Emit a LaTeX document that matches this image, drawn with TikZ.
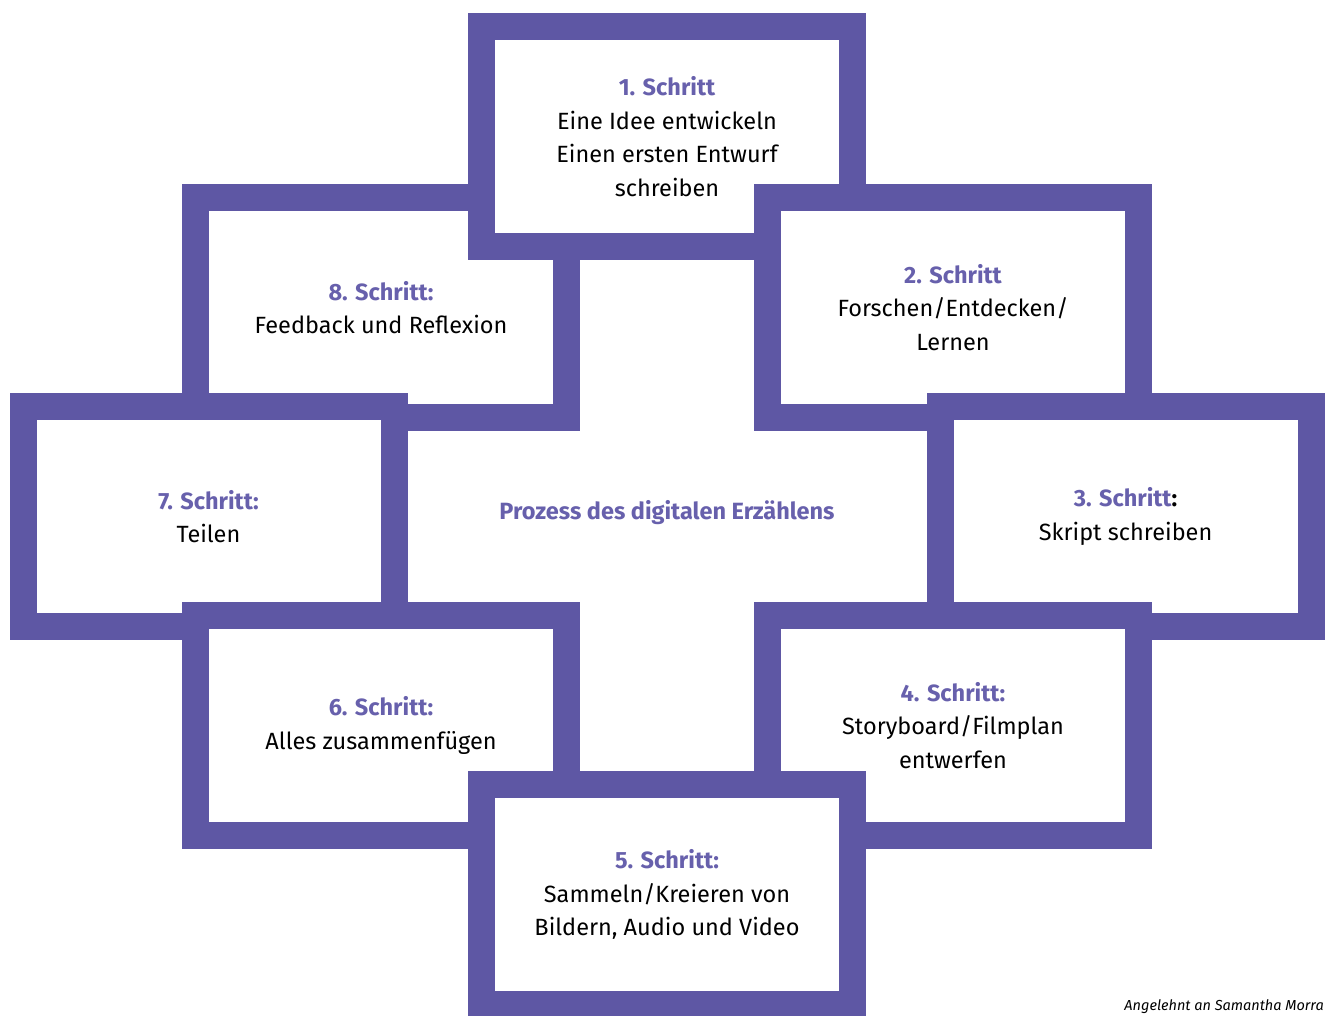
\documentclass[tikz,border=0pt]{standalone}
\usepackage{fontspec}
\setmainfont{Fira Sans}
\definecolor{frameP}{HTML}{5E57A4}
\definecolor{textP}{HTML}{6760AC}
\tikzset{
  framebox/.style={fill=frameP, draw=none, minimum width=398pt, minimum height=247pt, inner sep=0pt, outer sep=0pt},
  innerbox/.style={fill=white, draw=none, minimum width=344pt, minimum height=193pt, inner sep=0pt, outer sep=0pt,
     align=center, font=\fontsize{23.5}{33.5}\selectfont, text=black}
}
\newcommand{\ttlP}[1]{{\bfseries\color{textP}#1}}
\begin{document}
\begin{tikzpicture}[x=1pt,y=-1pt]
\useasboundingbox (0,0) rectangle (1325,1015);
\clip (0,0) rectangle (1325,1015);
% order: 8,1,2,3,4,7,6,5
\node[framebox] (f8) at (381,307.5) {};
\node[innerbox] (s8) at (f8.center) {\ttlP{8. Schritt:}\\Feedback und Reflexion};
\node[framebox] (f1) at (667,136.5) {};
\node[innerbox] (s1) at (f1.center) {\ttlP{1. Schritt}\\Eine Idee entwickeln\\Einen ersten Entwurf\\schreiben};
\node[framebox] (f2) at (953,307.5) {};
\node[innerbox] (s2) at (f2.center) {\ttlP{2. Schritt}\\Forschen/Entdecken/\\Lernen};
\node[framebox] (f3) at (1125.5,516.5) {};
\node[innerbox] (s3) at (f3.center) {\ttlP{3. Schritt}\textbf{:}\\Skript schreiben};
\node[framebox] (f4) at (953,725.5) {};
\node[innerbox] (s4) at (f4.center) {\ttlP{4. Schritt:}\\Storyboard/Filmplan\\entwerfen};
\node[framebox] (f7) at (208.5,516.5) {};
\node[innerbox] (s7) at (f7.center) {\ttlP{7. Schritt:}\\Teilen};
\node[framebox] (f6) at (381,725.5) {};
\node[innerbox] (s6) at (f6.center) {\ttlP{6. Schritt:}\\Alles zusammenfügen};
\node[framebox] (f5) at (667,894.5) {};
\node[innerbox] (s5) at (f5.center) {\ttlP{5. Schritt:}\\Sammeln/Kreieren von\\Bildern, Audio und Video};
\node[font=\fontsize{23.5}{26}\selectfont\bfseries, text=textP] (c) at (667,513) {Prozess des digitalen Erzählens};
\node[anchor=base east, font=\fontsize{14.5}{16}\selectfont\itshape, inner sep=0pt] (src) at (1324,1010) {Angelehnt an Samantha Morra};
\end{tikzpicture}
\end{document}
